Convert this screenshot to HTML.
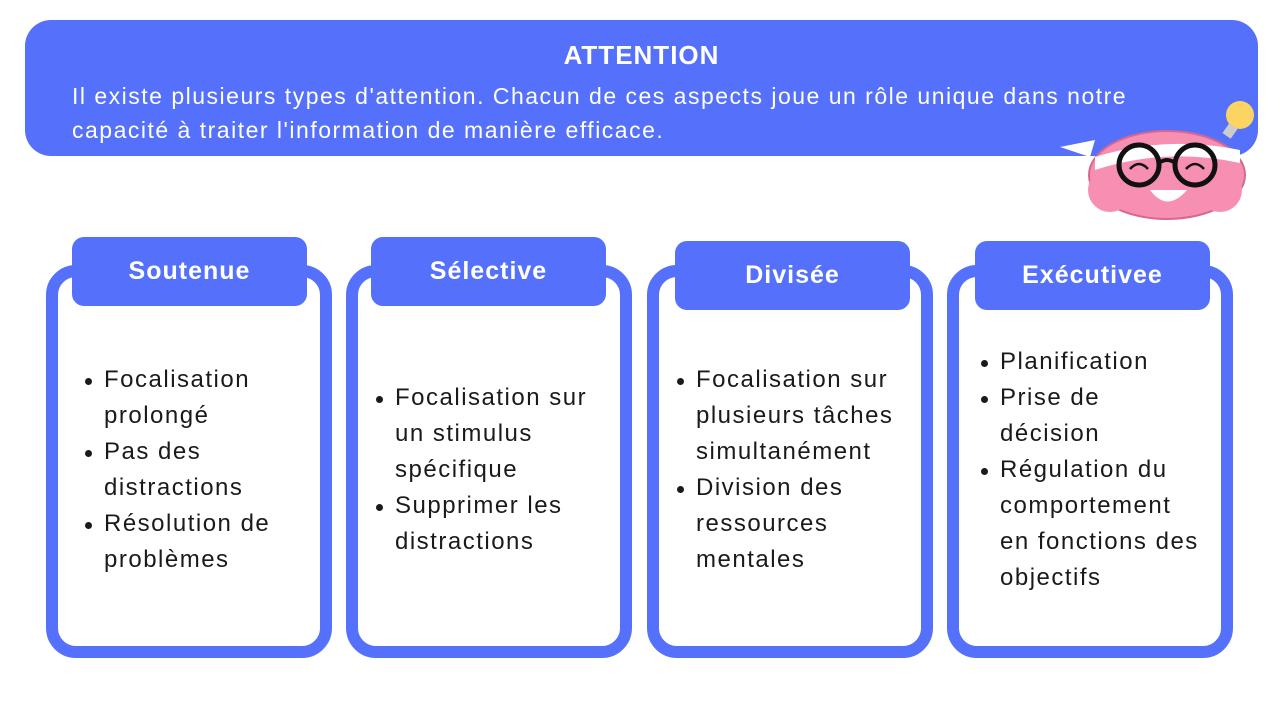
<!DOCTYPE html>
<html><head><meta charset="utf-8"><style>
*{margin:0;padding:0;box-sizing:border-box}
body{width:1280px;height:720px;background:#fff;position:relative;overflow:hidden;font-family:"Liberation Sans",sans-serif;color:#1a1a1a}
.hdr{position:absolute;left:25px;top:20px;width:1233px;height:136px;background:#5571fb;border-radius:26px;color:#fff}
.hdr h1{position:absolute;top:20px;left:0;width:100%;text-align:center;font-size:26px;letter-spacing:1px;font-weight:bold;line-height:30px}
.hdr p{position:absolute;left:47px;top:59px;font-size:23px;letter-spacing:1.5px;line-height:34px;white-space:nowrap}
.card{position:absolute;top:265px;width:286px;height:393px;border:12px solid #5571fb;border-radius:30px;background:#fff}
.tab{position:absolute;width:235px;height:69px;background:#5571fb;border-radius:12px;color:#fff;font-weight:bold;font-size:25px;letter-spacing:1px;text-align:center;line-height:69px}
ul{position:absolute;font-size:24px;letter-spacing:1.5px;line-height:36px;list-style:none;white-space:nowrap}
li{position:relative}
li::before{content:"";position:absolute;left:-19px;top:16px;width:7px;height:7px;border-radius:50%;background:#1a1a1a}
</style></head><body>
<div class="hdr"><h1>ATTENTION</h1><p>Il existe plusieurs types d'attention. Chacun de ces aspects joue un rôle unique dans notre<br>capacité à traiter l'information de manière efficace.</p></div>

<svg style="position:absolute;left:1055px;top:95px" width="200" height="130" viewBox="0 0 200 130">
<path d="M5 52 L40 45 L35 62 Z" fill="#fff"/>
<ellipse cx="112" cy="80" rx="78" ry="44" fill="#f78fb3" stroke="#d9668f" stroke-width="2"/>
<circle cx="55" cy="95" r="22" fill="#f78fb3"/><circle cx="165" cy="95" r="22" fill="#f78fb3"/>
<path d="M40 62 Q110 40 185 55 L185 68 Q110 52 40 75 Z" fill="#fff"/>
<path d="M95 95 Q112 118 132 95 Z" fill="#fff"/>
<circle cx="84" cy="70" r="20" fill="none" stroke="#111" stroke-width="5"/>
<circle cx="140" cy="70" r="20" fill="none" stroke="#111" stroke-width="5"/>
<path d="M104 68 Q112 62 120 68" fill="none" stroke="#111" stroke-width="4"/>
<path d="M75 74 Q84 64 93 74 M131 74 Q140 64 149 74" fill="none" stroke="#111" stroke-width="2.5"/>
<circle cx="185" cy="20" r="14" fill="#fcd462"/><rect x="170" y="30" width="10" height="12" fill="#ccc" transform="rotate(35 175 36)"/>
</svg>

<div class="card" style="left:46px"></div><div class="tab" style="left:72px;top:237px">Soutenue</div>
<div class="card" style="left:346px"></div><div class="tab" style="left:371px;top:237px">Sélective</div>
<div class="card" style="left:647px"></div><div class="tab" style="left:675px;top:241px">Divisée</div>
<div class="card" style="left:947px"></div><div class="tab" style="left:975px;top:241px">Exécutivee</div>

<ul style="left:104px;top:362px"><li>Focalisation<br>prolongé</li><li>Pas des<br>distractions</li><li>Résolution de<br>problèmes</li></ul>
<ul style="left:395px;top:380px"><li>Focalisation sur<br>un stimulus<br>spécifique</li><li>Supprimer les<br>distractions</li></ul>
<ul style="left:696px;top:362px"><li>Focalisation sur<br>plusieurs tâches<br>simultanément</li><li>Division des<br>ressources<br>mentales</li></ul>
<ul style="left:1000px;top:344px"><li>Planification</li><li>Prise de<br>décision</li><li>Régulation du<br>comportement<br>en fonctions des<br>objectifs</li></ul>
</body></html>
